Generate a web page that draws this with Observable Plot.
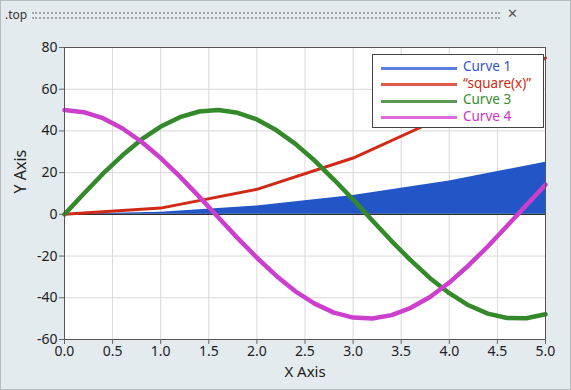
<!DOCTYPE html>
<html>
<head>
<meta charset="utf-8">
<script src="https://cdn.jsdelivr.net/npm/d3@7"></script>
<script src="https://cdn.jsdelivr.net/npm/@observablehq/plot@0.6"></script>
<style>
  html, body { margin: 0; padding: 0; }
  body { width: 571px; height: 390px; background: #e3ebee; position: relative; overflow: hidden; font-family: "Noto Sans", sans-serif; }
  #win { position: absolute; left: 0; top: 0; width: 569px; height: 388px; border: 1px solid #b4bcc0; }
  #title { position: absolute; left: 5px; top: 6px; font-size: 12px; color: #333; }
  #grip { position: absolute; left: 32px; top: 12px; width: 468px; height: 3px; border-top: 2px dotted #a0a6aa; border-bottom: 2px dotted #a0a6aa; }
  #close { position: absolute; left: 507px; top: 4px; font-size: 13px; color: #555; }
  #chart { position: absolute; left: 0; top: 0; }
  #legend { position: absolute; left: 372px; top: 54px; width: 172px; height: 74px; background: #fff; border: 1px solid #444; box-sizing: border-box; }
  .row { position: absolute; left: 8px; height: 16px; font-size: 13.5px; line-height: 16px; }
  .sw { position: absolute; left: 0; top: 6.5px; width: 76px; height: 3px; }
  .lb { position: absolute; left: 82px; top: -2px; white-space: nowrap; }
</style>
</head>
<body>
<div id="win"></div>
<div id="title">.top</div>
<div id="grip"></div>
<div id="close">✕</div>
<div id="chart"></div>
<div id="legend"></div>
<script>
// Curve 1 (filled area) and "square(x)" sampled at integer x
const xInt = [0, 1, 2, 3, 4, 5];
const curve1 = [0, 1, 4, 9, 16, 25];
const squareX = [0, 3, 12, 27, 48, 75];

// Curves 3 and 4 sampled every 0.2
const xFine = [0,0.2,0.4,0.6,0.8,1.0,1.2,1.4,1.6,1.8,2.0,2.2,2.4,2.6,2.8,3.0,3.2,3.4,3.6,3.8,4.0,4.2,4.4,4.6,4.8,5.0];
const curve3 = [0,9.9,19.5,28.2,35.9,42.1,46.6,49.3,50.0,48.7,45.5,40.4,33.8,25.8,16.7,7.1,-2.9,-12.8,-22.1,-30.6,-37.8,-43.6,-47.6,-49.7,-49.8,-47.9];
const curve4 = [50,49.0,46.1,41.3,34.8,27.0,18.1,8.5,-1.5,-11.4,-20.8,-29.4,-36.9,-42.8,-47.1,-49.5,-49.9,-48.3,-44.8,-39.6,-32.7,-24.5,-15.4,-5.6,4.4,14.2];

const xTicks = [0,0.5,1,1.5,2,2.5,3,3.5,4,4.5,5];
const yTicks = [-60,-40,-20,0,20,40,60,80];

const seriesNames = ["Curve 1", "\u201csquare(x)\u201d", "Curve 3", "Curve 4"];
const lineColors = ["#2256c6", "#d02a16", "#348a2a", "#cc3fcc"];
const legendLineColors = ["#5a7fe0", "#dd5a48", "#5a9a55", "#de6ade"];
const legendTextColors = ["#3355d0", "#cc2a14", "#378a2d", "#cc33cc"];

const d1 = xInt.map((x, i) => ({x, y: curve1[i]}));
const d2 = xInt.map((x, i) => ({x, y: squareX[i]}));
const d3c = xFine.map((x, i) => ({x, y: curve3[i]}));
const d4 = xFine.map((x, i) => ({x, y: curve4[i]}));

const chart = Plot.plot({
  width: 571,
  height: 390,
  marginLeft: 64,
  marginRight: 26,
  marginTop: 47,
  marginBottom: 51,
  style: { background: "transparent", fontFamily: "Noto Sans, sans-serif", fontSize: "14px", color: "#222" },
  x: { domain: [0, 5] },
  y: { domain: [-60, 80] },
  marks: [
    Plot.frame({ fill: "#fff" }),
    Plot.gridX(xTicks, { stroke: "#d8d8d8", strokeOpacity: 1, strokeWidth: 1 }),
    Plot.gridY(yTicks, { stroke: "#d8d8d8", strokeOpacity: 1, strokeWidth: 1 }),
    Plot.areaY(d1, { x: "x", y: "y", fill: lineColors[0] }),
    Plot.ruleY([0], { stroke: "#111", strokeWidth: 1 }),
    Plot.line(d2, { x: "x", y: "y", stroke: lineColors[1], strokeWidth: 3 }),
    Plot.line(d3c, { x: "x", y: "y", stroke: lineColors[2], strokeWidth: 4.5 }),
    Plot.line(d4, { x: "x", y: "y", stroke: lineColors[3], strokeWidth: 4.5 }),
    Plot.frame({ stroke: "#555", strokeWidth: 1 }),
    Plot.axisX(xTicks, { tickFormat: d => d.toFixed(1), tickSize: 5, tickPadding: 2, stroke: "#666", label: null, fontSize: 14 }),
    Plot.axisY(yTicks, { tickFormat: d => String(d), tickSize: 5, tickPadding: 2, stroke: "#666", label: null, fontSize: 14 }),
    Plot.text(["X Axis"], { frameAnchor: "bottom", dy: 37.5, fontSize: 15, fill: "#222" }),
    Plot.text(["Y Axis"], { frameAnchor: "left", dx: -44, rotate: -90, fontSize: 16, fill: "#222" })
  ]
});
document.getElementById("chart").appendChild(chart);

// Legend
const legend = document.getElementById("legend");
seriesNames.forEach((name, i) => {
  const row = document.createElement("div");
  row.className = "row";
  row.style.top = (5 + i * 16.5) + "px";
  const sw = document.createElement("div");
  sw.className = "sw";
  sw.style.background = legendLineColors[i];
  const lb = document.createElement("div");
  lb.className = "lb";
  lb.style.color = legendTextColors[i];
  lb.textContent = name;
  row.appendChild(sw);
  row.appendChild(lb);
  legend.appendChild(row);
});
</script>
</body>
</html>
